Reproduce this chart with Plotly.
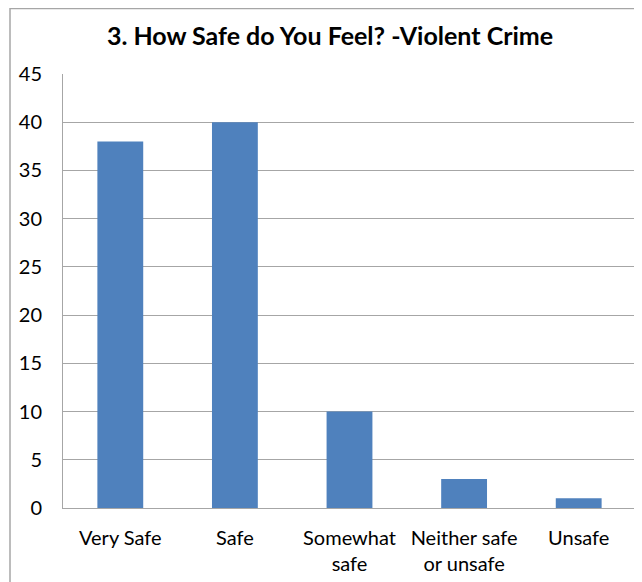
import plotly.graph_objects as go

categories = ["Very Safe", "Safe", "Somewhat<br>safe", "Neither safe<br>or unsafe", "Unsafe"]
values = [38, 40, 10, 3, 1]
y_ticks = [0, 5, 10, 15, 20, 25, 30, 35, 40, 45]
title_text = "3. How Safe do You Feel? -Violent Crime"

# page body has an 8px default margin; figure sized to fit the window
OFF = 8
W, H = 642 - OFF, 582 - OFF
L, R, T, B = 63 - OFF, 6, 74 - OFF, 74
pw = W - L - R
ph = H - T - B

fig = go.Figure(go.Bar(x=categories, y=values, marker=dict(color="#4F81BD", line=dict(width=0))))

fig.update_layout(
    width=W, height=H,
    margin=dict(l=L, r=R, t=T, b=B, autoexpand=False),
    paper_bgcolor="white", plot_bgcolor="white",
    bargap=0.6,
    showlegend=False,
    font=dict(family="Lato", size=20, color="#000000"),
    title=dict(text="<b>" + title_text + "</b>", x=(330 - OFF - L) / pw, xref="paper", xanchor="center",
               y=1 - (36 - OFF) / H, yanchor="middle", yref="container", automargin=False,
               font=dict(family="Lato", size=25, color="#000000")),
    xaxis=dict(showline=True, linecolor="#A6A6A6", linewidth=1, ticks="", ticklabelstandoff=12,
               automargin=False, tickfont=dict(size=20)),
    yaxis=dict(range=[0, 45], tickvals=y_ticks, showgrid=True, gridcolor="#A6A6A6", gridwidth=1,
               showline=True, linecolor="#A6A6A6", linewidth=1, zeroline=False, ticks="",
               automargin=False, ticklabelstandoff=16, tickfont=dict(size=20)),
    shapes=[dict(type="rect", xref="paper", yref="paper",
                 x0=(10 - OFF - L) / pw, x1=(W + 5 - L) / pw,
                 y0=-(H + 5 - T - ph) / ph, y1=1 + (T - 0.5) / ph,
                 line=dict(color="#A6A6A6", width=1.5), fillcolor="rgba(0,0,0,0)", layer="below")],
)

fig.write_html("out.html")
